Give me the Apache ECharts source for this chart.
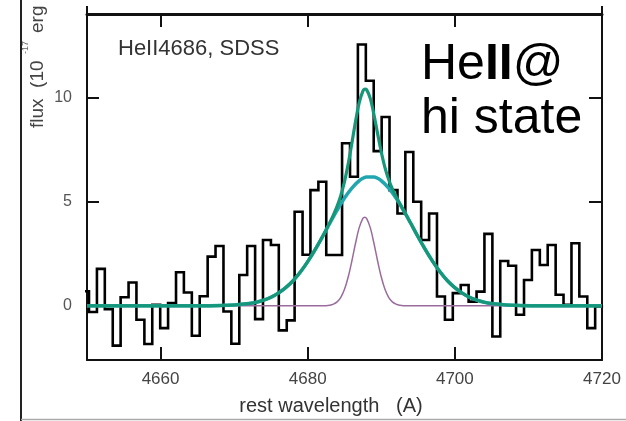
<!DOCTYPE html>
<html><head><meta charset="utf-8">
<script src="https://cdn.jsdelivr.net/npm/echarts@6/dist/echarts.min.js"></script>
<style>html,body{margin:0;padding:0;background:#fff}#c{width:626px;height:421px}</style>
</head><body><div id="c"></div>
<script>
// Data: binned SDSS spectrum around HeII 4686 (bin left edges in Angstrom, flux per bin)
const binEdges = [4649.20, 4650.27, 4651.35, 4652.42, 4653.50, 4654.57, 4655.65, 4656.72, 4657.80, 4658.87,
  4659.95, 4661.02, 4662.10, 4663.17, 4664.25, 4665.32, 4666.40, 4667.47, 4668.55, 4669.62,
  4670.70, 4671.77, 4672.85, 4673.92, 4675.00, 4676.07, 4677.15, 4678.22, 4679.30, 4680.37,
  4681.45, 4682.52, 4683.60, 4684.67, 4685.75, 4686.82, 4687.90, 4688.97, 4690.05, 4691.12,
  4692.20, 4693.27, 4694.35, 4695.42, 4696.50, 4697.57, 4698.65, 4699.72, 4700.80, 4701.87,
  4702.95, 4704.02, 4705.10, 4706.17, 4707.25, 4708.32, 4709.40, 4710.47, 4711.55, 4712.62,
  4713.70, 4714.77, 4715.85, 4716.92, 4718.00, 4719.07, 4720.15];
const fluxValues = [0.70, -0.30, 1.77, -0.16, -1.91, 0.41, 1.12, -0.67, -1.83, 0.05,
  -1.07, 0.13, 1.61, 0.64, -1.44, 0.46, 2.36, 2.87, -0.27, -1.82,
  1.48, 2.87, -0.64, 3.16, 2.92, -1.18, -0.70, 4.51, 2.45, 5.55,
  5.95, 2.44, 2.44, 7.80, 6.19, 12.54, 10.80, 7.42, 9.06, 5.55,
  4.43, 7.38, 4.99, 3.16, 4.43, 0.45, -0.67, 0.61, 1.00, 0.20,
  0.68, 3.45, -1.47, 2.15, 1.92, -0.43, 1.24, 2.68, 1.96, 2.92,
  0.53, 0.05, 3.00, 0.45, -1.07, -0.03];

// broad component
const broadWave = [4650,4660,4665,4668,4670,4672,4673,4674,4675,4676,4677,4678,4679,4680,4681,4682,4683,4684,4685,4686,4687,4688,4689,4690,4691,4692,4693,4694,4695,4696,4697,4698,4699,4700,4701,4702,4703,4704,4705,4707,4709,4712,4720];
const broadFlux = [0,0,0,0.01,0.04,0.11,0.17,0.27,0.41,0.61,0.87,1.20,1.62,2.12,2.69,3.31,3.96,4.59,5.17,5.65,6.00,6.18,6.18,6.00,5.65,5.17,4.59,3.96,3.31,2.69,2.12,1.62,1.20,0.87,0.61,0.41,0.27,0.17,0.11,0.04,0.01,0,0];

// narrow component
const narrowWave = [4650,4682,4683,4683.5,4684,4684.5,4685,4685.5,4686,4686.5,4687,4687.5,4687.75,4688,4688.5,4689,4689.5,4690,4690.5,4691,4691.5,4692,4692.5,4693.5,4720];
const narrowFlux = [0,0,0.03,0.08,0.19,0.41,0.79,1.38,2.15,3.00,3.75,4.19,4.25,4.19,3.75,3.00,2.15,1.38,0.79,0.41,0.19,0.08,0.03,0,0];

// total fit
const totalWave = [4650,4660,4665,4668,4670,4672,4673,4674,4675,4676,4677,4678,4679,4680,4681,4682,4683,4683.5,4684,4684.5,4685,4685.5,4686,4686.5,4687,4687.5,4687.75,4688,4688.5,4689,4689.5,4690,4690.5,4691,4691.5,4692,4692.5,4693.5,4694,4695,4696,4697,4698,4699,4700,4701,4702,4703,4704,4705,4707,4709,4712,4720];
const totalFlux = [0,0,0,0.01,0.04,0.11,0.17,0.27,0.41,0.61,0.87,1.20,1.62,2.12,2.69,3.31,3.99,4.36,4.78,5.30,5.96,6.80,7.80,8.84,9.75,10.30,10.40,10.37,9.95,9.18,8.26,7.38,6.63,6.06,5.61,5.25,4.92,4.28,3.96,3.31,2.69,2.12,1.62,1.20,0.87,0.61,0.41,0.27,0.17,0.11,0.04,0.01,0,0];

const xTickLabels = [4660, 4680, 4700, 4720];
const xTickMarks = [4660, 4680, 4700];
const yTickLabels = [0, 5, 10];

const FONT = '"Liberation Sans", Arial, sans-serif';
const histData = binEdges.map((w, i) => [w, fluxValues[Math.min(i, fluxValues.length - 1)]]);
const zip = (a, b) => a.map((w, i) => [w, b[i]]);

const chart = echarts.init(document.getElementById('c'), null, {renderer: 'canvas'});
const axisCommon = {
  type: 'value', splitLine: {show: false}
};
chart.setOption({
  animation: false,
  backgroundColor: '#fff',
  grid: {left: 87, right: 24, top: 14, bottom: 61, containLabel: false, outerBoundsMode: 'none'},
  xAxis: [
    Object.assign({}, axisCommon, {
      min: 4650, max: 4720, position: 'bottom',
      axisLine: {show: true, onZero: false, lineStyle: {color: '#111', width: 2}},
      axisTick: {show: true, inside: true, length: 13, customValues: xTickMarks, lineStyle: {color: '#111', width: 2}},
      axisLabel: {show: true, customValues: xTickLabels, margin: 11, fontSize: 17, color: '#444', fontFamily: FONT,
        formatter: (v) => String(v)}
    }),
    Object.assign({}, axisCommon, {
      min: 4650, max: 4720, position: 'top',
      axisLine: {show: true, onZero: false, lineStyle: {color: '#111', width: 3}},
      axisTick: {show: true, inside: true, length: 13, customValues: xTickMarks, lineStyle: {color: '#111', width: 2}},
      axisLabel: {show: false}
    })
  ],
  yAxis: [
    Object.assign({}, axisCommon, {
      min: -2.6, max: 14, position: 'left',
      axisLine: {show: true, onZero: false, lineStyle: {color: '#111', width: 2}},
      axisTick: {show: true, inside: true, length: 12, customValues: yTickLabels, lineStyle: {color: '#111', width: 2}},
      axisLabel: {show: true, customValues: yTickLabels, margin: 15, fontSize: 16, color: '#555', fontFamily: FONT,
        formatter: (v) => String(v)}
    }),
    Object.assign({}, axisCommon, {
      min: -2.6, max: 14, position: 'right',
      axisLine: {show: true, onZero: false, lineStyle: {color: '#111', width: 2}},
      axisTick: {show: true, inside: true, length: 13, customValues: yTickLabels, lineStyle: {color: '#111', width: 2}},
      axisLabel: {show: false}
    })
  ],
  series: [
    {type: 'line', name: 'spectrum', data: histData, step: 'end', symbol: 'none', clip: true,
     lineStyle: {color: '#000', width: 2.6, join: 'miter'}, z: 2},
    {type: 'line', name: 'narrow', data: zip(narrowWave, narrowFlux), smooth: 0.35, symbol: 'none', clip: true,
     lineStyle: {color: '#9a6c9c', width: 1.5}, z: 3},
    {type: 'line', name: 'broad', data: zip(broadWave, broadFlux), smooth: 0.35, symbol: 'none', clip: true,
     lineStyle: {color: '#21a6b0', width: 3.5}, z: 4},
    {type: 'line', name: 'total', data: zip(totalWave, totalFlux), smooth: 0.35, symbol: 'none', clip: true,
     lineStyle: {color: '#17977a', width: 3.2}, z: 5}
  ],
  graphic: [
    {type: 'line', shape: {x1: 21, y1: 0, x2: 21, y2: 421}, style: {stroke: '#222', lineWidth: 2}},
    {type: 'line', shape: {x1: 21, y1: 419.5, x2: 626, y2: 419.5}, style: {stroke: '#aaa', lineWidth: 1.5}},
    {type: 'line', shape: {x1: 87, y1: 6, x2: 87, y2: 14}, style: {stroke: '#111', lineWidth: 2}},
    {type: 'line', shape: {x1: 602, y1: 6, x2: 602, y2: 14}, style: {stroke: '#111', lineWidth: 2}},
    {type: 'text', x: 118, y: 49, style: {text: 'HeII4686, SDSS', font: '22px ' + FONT, fill: '#333',
      align: 'left', verticalAlign: 'middle', textAlign: 'left', textVerticalAlign: 'middle'}},
    {type: 'text', x: 421, y: 65, style: {text: 'He{b|II}@', font: '50px ' + FONT, fill: '#000',
      align: 'left', verticalAlign: 'middle', textAlign: 'left', textVerticalAlign: 'middle',
      rich: {b: {fontWeight: 'bold', fontSize: 50, fontFamily: FONT, fill: '#000', color: '#000'}}}},
    {type: 'text', x: 421, y: 119, style: {text: 'hi state', font: '50px ' + FONT, fill: '#000',
      align: 'left', verticalAlign: 'middle', textAlign: 'left', textVerticalAlign: 'middle'}},
    {type: 'text', x: 331, y: 406, style: {text: 'rest wavelength   (A)', font: '20px ' + FONT, fill: '#333',
      align: 'center', verticalAlign: 'middle', textAlign: 'center', textVerticalAlign: 'middle'}},
    {type: 'text', x: 38, y: 128, rotation: Math.PI / 2, style: {text: 'flux  (10', font: '19px ' + FONT, fill: '#444',
      align: 'left', verticalAlign: 'middle', textAlign: 'left', textVerticalAlign: 'middle'}},
    {type: 'text', x: 26, y: 54, rotation: Math.PI / 2, style: {text: '-17', font: '9px ' + FONT, fill: '#666',
      align: 'left', verticalAlign: 'middle', textAlign: 'left', textVerticalAlign: 'middle'}},
    {type: 'text', x: 38, y: 33, rotation: Math.PI / 2, style: {text: 'erg', font: '19px ' + FONT, fill: '#444',
      align: 'left', verticalAlign: 'middle', textAlign: 'left', textVerticalAlign: 'middle'}}
  ]
});
</script>
</body></html>
